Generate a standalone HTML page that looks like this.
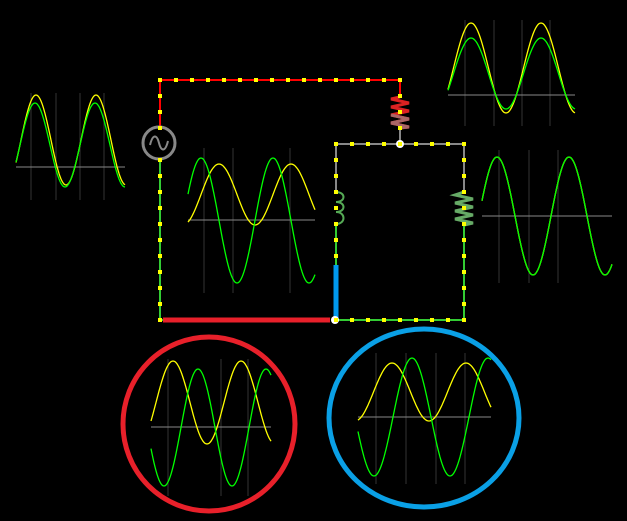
<!DOCTYPE html>
<html><head><meta charset="utf-8"><style>
html,body{margin:0;padding:0;background:#000;}
svg{display:block;}
</style></head><body>
<svg id="svg" width="627" height="521" viewBox="0 0 627 521" xmlns="http://www.w3.org/2000/svg">
<rect width="627" height="521" fill="#000"/>
<g id="circuit">
  <!-- wires -->
  <line x1="160" y1="80" x2="400" y2="80" stroke="#f00" stroke-width="2"/>
  <line x1="160" y1="80" x2="160" y2="127" stroke="#f00" stroke-width="2"/>
  <line x1="160" y1="160" x2="160" y2="320" stroke="#3c3" stroke-width="2"/>
  <line x1="400" y1="80" x2="400" y2="97" stroke="#f00" stroke-width="2"/>
  <line x1="400" y1="128" x2="400" y2="144" stroke="#888" stroke-width="2"/>
  <polyline points="400,97 391,99 409,103 391,107 409,111 391,115 409,119 391,123 409,127 400,128" fill="none" stroke="#d22" stroke-width="3"/>
  <polyline points="391,115 409,119 391,123 409,127 400,128" fill="none" stroke="#a66" stroke-width="3"/>
  <circle cx="159" cy="143" r="16" fill="none" stroke="#888" stroke-width="3"/>
  <path d="M150,145 C153,133 157,135 159,143 C161,151 165,153 168,141" fill="none" stroke="#888" stroke-width="2"/>
  <line x1="336" y1="144" x2="464" y2="144" stroke="#888" stroke-width="2"/>
  <line x1="336" y1="144" x2="336" y2="192" stroke="#888" stroke-width="2"/>
  <path d="M336,192 C346,192 346,202 336,202 C346,202 346,212 336,212 C346,212 346,224 336,224" fill="none" stroke="#5a5" stroke-width="2"/>
  <line x1="336" y1="224" x2="336" y2="265" stroke="#3c3" stroke-width="2"/>
  <line x1="336" y1="265" x2="336" y2="318" stroke="#09e" stroke-width="5"/>
  <line x1="464" y1="144" x2="464" y2="192" stroke="#888" stroke-width="2"/>
  <polyline points="464,192 455,195 473,199 455,203 473,207 455,211 473,215 455,219 473,223 464,225" fill="none" stroke="#6a6" stroke-width="3"/>
  <line x1="464" y1="225" x2="464" y2="320" stroke="#3c3" stroke-width="2"/>
  <line x1="336" y1="320" x2="464" y2="320" stroke="#3c3" stroke-width="2"/>
  <line x1="160" y1="320" x2="163" y2="320" stroke="#3c3" stroke-width="2"/>
  <line x1="163" y1="320" x2="330" y2="320" stroke="#e8202a" stroke-width="5"/>
  <circle cx="400" cy="144" r="4" fill="#fff"/>
  <circle cx="335" cy="320" r="4" fill="#fff"/>
  <g id="dots"></g>
</g>
<ellipse cx="209" cy="424" rx="86" ry="87" fill="none" stroke="#e8202a" stroke-width="5"/>
<ellipse cx="424" cy="418" rx="95" ry="89" fill="none" stroke="#0aa0e6" stroke-width="5"/>
<g id="scopes"></g>
</svg>
<script>
// scope trace parameters: center y, amplitude, x of a peak, period
var scopeNames = ["scope-top-left","scope-top-right","scope-right","scope-center","scope-red","scope-blue"];
var yellowCenter = [140, 68, 216, 194.5, 402.5, 392];
var yellowAmp    = [45, 45, 59, 30.5, 41.5, 29];
var yellowPeak   = [36, 471, 497, 219, 173, 392];
var yellowPeriod = [60, 70, 72, 72, 68, 74];
var greenCenter  = [145, 73.5, 216, 220.5, 427.5, 417];
var greenAmp     = [42, 35.5, 59, 62.5, 58.5, 59];
var greenPeak    = [35, 471, 497, 201, 198, 412];
var greenPeriod  = [60, 70, 72, 72, 68, 76];
// scope frames (layout)
var frames = [
 {x0:16,x1:125,base:167,gy0:93,gy1:200,grid:[31,56,80,104]},
 {x0:448,x1:575,base:95,gy0:20,gy1:126,grid:[465,494,522,550]},
 {x0:482,x1:612,base:216,gy0:150,gy1:283,grid:[499,529,558]},
 {x0:188,x1:315,base:220,gy0:148,gy1:293,grid:[204,233,290]},
 {x0:151,x1:271,base:427,gy0:359,gy1:496,grid:[168,221,248]},
 {x0:358,x1:491,base:417,gy0:353,gy1:484,grid:[376,406,436,465]}
];
var NS="http://www.w3.org/2000/svg";
var sg=document.getElementById('scopes');
function mk(tag,attrs,parent){var e=document.createElementNS(NS,tag);for(var k in attrs)e.setAttribute(k,attrs[k]);parent.appendChild(e);return e;}
function wave(f,c,a,p,per){var pts=[];for(var x=f.x0;x<=f.x1;x++){var y=c-a*Math.cos(2*Math.PI*(x-p)/per);pts.push(x+','+y.toFixed(1));}return pts.join(' ');}
for(var i=0;i<frames.length;i++){
  var f=frames[i];
  var g=mk('g',{},sg);
  
  
  for(var j=0;j<f.grid.length;j++){
    var gl=mk('line',{x1:f.grid[j],x2:f.grid[j],y1:f.gy0,y2:f.gy1,stroke:'#333','stroke-width':1},g);
    
    
  }
  var bl=mk('line',{x1:f.x0,x2:f.x1,y1:f.base,y2:f.base,stroke:'#888','stroke-width':1},g);
  
  
  var yl=mk('polyline',{points:wave(f,yellowCenter[i],yellowAmp[i],yellowPeak[i],yellowPeriod[i]),fill:'none',stroke:'#ff0','stroke-width':1.3},g);
  
  
  var gn=mk('polyline',{points:wave(f,greenCenter[i],greenAmp[i],greenPeak[i],greenPeriod[i]),fill:'none',stroke:'#0f0','stroke-width':1.3},g);
  
  
}
// current dots along wires
var dg=document.getElementById('dots');
var segs=[[160,80,400,80],[160,80,160,320],[400,80,400,144],[336,144,464,144],[336,144,336,320],[464,144,464,320],[336,320,464,320]];
for(var s=0;s<segs.length;s++){
  var q=segs[s];var len=Math.hypot(q[2]-q[0],q[3]-q[1]);var n=Math.round(len/16);
  for(var k=0;k<=n;k++){
    var x=q[0]+(q[2]-q[0])*k/n, y=q[1]+(q[3]-q[1])*k/n;
    if(s===1 && y>128 && y<160) continue;
    if(s===4 && y>262) continue;
    var d=mk('rect',{x:x-2,y:y-2,width:4,height:4,fill:'#ff0'},dg);
    
    
  }
}
</script>
</body></html>
